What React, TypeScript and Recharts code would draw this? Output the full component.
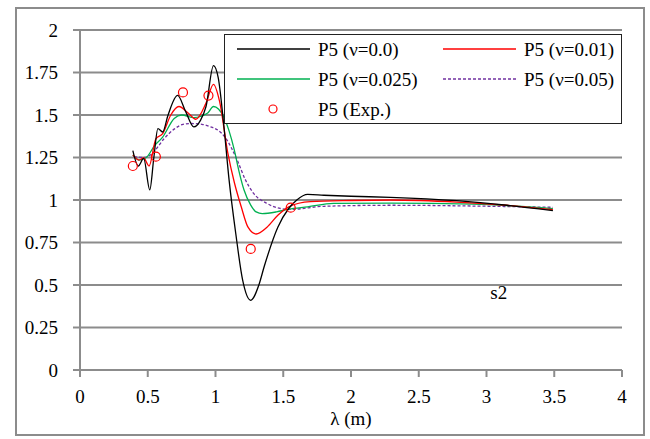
import {
  CartesianGrid,
  ComposedChart,
  Legend,
  Line,
  ReferenceDot,
  Scatter,
  XAxis,
  YAxis,
} from 'recharts'

const FONT = "'Liberation Serif', 'Times New Roman', serif"
const GRID = '#8c8c8c'

// wavelength (m) / response
const nu00X = [0.39, 0.43, 0.47, 0.515, 0.545, 0.575, 0.61, 0.65, 0.72, 0.78, 0.84, 0.89, 0.93, 0.985, 1.02, 1.06, 1.1, 1.15, 1.2, 1.26, 1.32, 1.36, 1.46, 1.54, 1.6, 1.68, 1.8, 2.0, 2.29, 2.78, 3.15, 3.49]
const nu00Y = [1.29, 1.2, 1.245, 1.06, 1.25, 1.42, 1.4, 1.5, 1.615, 1.52, 1.43, 1.47, 1.55, 1.79, 1.72, 1.45, 1.12, 0.8, 0.53, 0.41, 0.5, 0.61, 0.84, 0.95, 1.0, 1.033, 1.028, 1.022, 1.016, 0.996, 0.969, 0.937]

const nu01X = [0.39, 0.435, 0.47, 0.51, 0.56, 0.61, 0.67, 0.73, 0.8, 0.855, 0.93, 0.985, 1.03, 1.09, 1.14, 1.19, 1.24, 1.3, 1.38, 1.46, 1.54, 1.7, 2.0, 2.29, 2.78, 3.15, 3.49]
const nu01Y = [1.265, 1.235, 1.247, 1.2, 1.36, 1.39, 1.5, 1.55, 1.51, 1.475, 1.57, 1.68, 1.58, 1.28, 1.1, 0.96, 0.84, 0.8, 0.84, 0.91, 0.96, 0.99, 0.997, 1.0, 0.988, 0.969, 0.943]

const nu025X = [0.39, 0.435, 0.49, 0.55, 0.61, 0.695, 0.75, 0.84, 0.94, 0.985, 1.06, 1.14, 1.17, 1.21, 1.26, 1.3, 1.345, 1.45, 1.54, 1.68, 1.87, 2.29, 2.9, 3.49]
const nu025Y = [1.265, 1.235, 1.25, 1.32, 1.37, 1.48, 1.5, 1.485, 1.51, 1.55, 1.49, 1.29, 1.18, 1.06, 0.97, 0.93, 0.92, 0.93, 0.946, 0.96, 0.98, 0.982, 0.976, 0.949]

const nu05X = [0.4, 0.47, 0.535, 0.62, 0.7, 0.76, 0.82, 0.9, 0.965, 1.02, 1.07, 1.16, 1.22, 1.28, 1.38, 1.48, 1.555, 1.8, 2.29, 3.03, 3.49]
const nu05Y = [1.255, 1.25, 1.275, 1.36, 1.42, 1.445, 1.45, 1.445, 1.43, 1.41, 1.37, 1.235, 1.12, 1.04, 0.98, 0.95, 0.945, 0.963, 0.969, 0.963, 0.957]

const expX = [0.39, 0.56, 0.76, 0.948, 1.26, 1.555]
const expY = [1.2, 1.255, 1.633, 1.614, 0.712, 0.955]

const xTicks = [0, 0.5, 1, 1.5, 2, 2.5, 3, 3.5, 4]
const yTicks = [0, 0.25, 0.5, 0.75, 1, 1.25, 1.5, 1.75, 2]

const pts = (xs: number[], ys: number[]) => xs.map((x, i) => ({ x, y: ys[i] }))

const legendItems = [
  { name: 'P5 (ν=0.0)', color: '#000000', dash: undefined, col: 0, row: 0 },
  { name: 'P5 (ν=0.01)', color: '#ff0000', dash: undefined, col: 1, row: 0 },
  { name: 'P5 (ν=0.025)', color: '#00b050', dash: undefined, col: 0, row: 1 },
  { name: 'P5 (ν=0.05)', color: '#7030a0', dash: '3 2', col: 1, row: 1 },
]

function LegendBox() {
  return (
    <div
      style={{
        width: 398,
        height: 90,
        border: '1.5px solid #222',
        background: '#fff',
        boxSizing: 'border-box',
      }}
    >
      <svg width={396} height={88} style={{ display: 'block' }}>
        {legendItems.map((it) => {
          const x0 = it.col === 0 ? 12 : 218
          const y = 14 + it.row * 30
          return (
            <g key={it.name}>
              <line x1={x0} x2={x0 + 73} y1={y} y2={y} stroke={it.color} strokeWidth={1.3} strokeDasharray={it.dash} />
              <text x={x0 + 81} y={y + 7} fontFamily={FONT} fontSize={19} fill="#000">
                {it.name}
              </text>
            </g>
          )
        })}
        <circle cx={48} cy={74} r={4} fill="none" stroke="#ff0000" strokeWidth={1.2} />
        <text x={93} y={81} fontFamily={FONT} fontSize={19} fill="#000">
          P5 (Exp.)
        </text>
      </svg>
    </div>
  )
}

export default function App() {
  const tick = { fontSize: 19, fontFamily: FONT, fill: '#000' }
  return (
    <div style={{ position: 'absolute', left: 0, top: 0, width: 650, height: 439, background: '#fff' }}>
      <div
        style={{
          position: 'absolute',
          left: 15,
          top: 7,
          width: 630,
          height: 429,
          border: `2px solid ${GRID}`,
          boxSizing: 'border-box',
        }}
      />
      <div style={{ position: 'absolute', left: 0, top: 0 }}>
        <ComposedChart width={650} height={439} margin={{ top: 30, right: 28, bottom: 0, left: 0 }}>
          <CartesianGrid vertical={false} stroke={GRID} strokeWidth={2} />
          <XAxis
            dataKey="x"
            type="number"
            domain={[0, 4]}
            ticks={xTicks}
            height={69}
            tick={tick}
            tickSize={7}
            tickMargin={13}
            axisLine={{ stroke: GRID, strokeWidth: 2 }}
            tickLine={{ stroke: GRID, strokeWidth: 2 }}
            label={{ value: 'λ (m)', position: 'insideBottom', offset: 14, fontSize: 19, fontFamily: FONT, fill: '#000' }}
          />
          <YAxis
            type="number"
            domain={[0, 2]}
            ticks={yTicks}
            width={80}
            tick={tick}
            tickSize={7}
            tickMargin={15}
            axisLine={{ stroke: GRID, strokeWidth: 2 }}
            tickLine={{ stroke: GRID, strokeWidth: 2 }}
          />
          <Legend
            layout="horizontal"
            verticalAlign="middle"
            align="center"
            content={() => <LegendBox />}
            wrapperStyle={{ position: 'absolute', left: 224, top: 34, width: 398, height: 90 }}
          />
          <Line data={pts(nu05X, nu05Y)} dataKey="y" name="P5 (ν=0.05)" type="monotone" stroke="#7030a0" strokeWidth={1.3} strokeDasharray="3 2" dot={false} isAnimationActive={false} />
          <Line data={pts(nu025X, nu025Y)} dataKey="y" name="P5 (ν=0.025)" type="monotone" stroke="#00b050" strokeWidth={1.3} dot={false} isAnimationActive={false} />
          <Line data={pts(nu01X, nu01Y)} dataKey="y" name="P5 (ν=0.01)" type="monotone" stroke="#ff0000" strokeWidth={1.3} dot={false} isAnimationActive={false} />
          <Line data={pts(nu00X, nu00Y)} dataKey="y" name="P5 (ν=0.0)" type="monotone" stroke="#000000" strokeWidth={1.3} dot={false} isAnimationActive={false} />
          <Scatter
            data={pts(expX, expY)}
            dataKey="y"
            name="P5 (Exp.)"
            isAnimationActive={false}
            shape={(p: any) => <circle cx={p.cx} cy={p.cy} r={4.5} fill="none" stroke="#ff0000" strokeWidth={1.2} />}
          />
          <ReferenceDot
            x={3.09}
            y={0.46}
            r={0}
            fill="none"
            stroke="none"
            label={{ value: 's2', position: 'center', fontSize: 19, fontFamily: FONT, fill: '#000' }}
          />
        </ComposedChart>
      </div>
    </div>
  )
}
